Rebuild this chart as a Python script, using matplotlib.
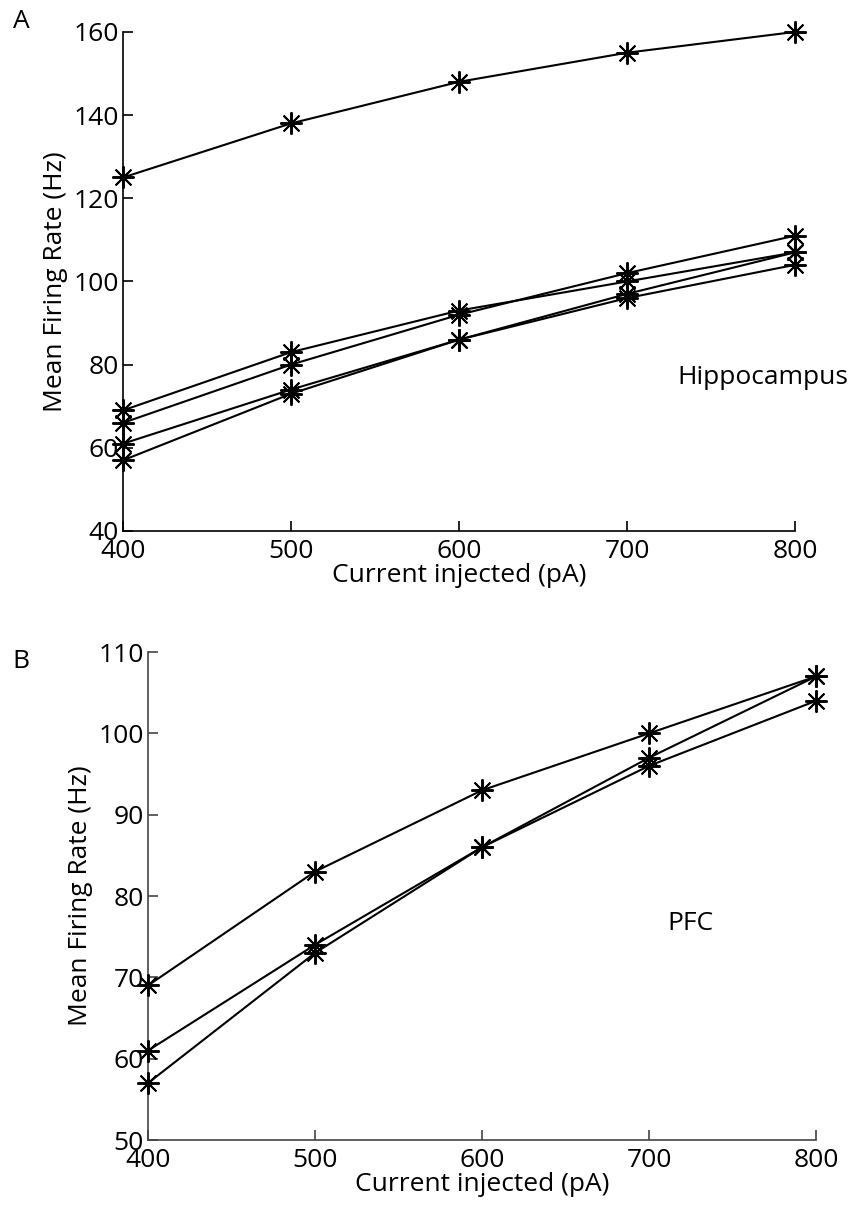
import matplotlib
matplotlib.use("Agg")
import matplotlib.pyplot as plt

plt.rcParams['font.family'] = ['Open Sans', 'DejaVu Sans']

current = [400, 500, 600, 700, 800]

hippo_1 = [125, 138, 148, 155, 160]
hippo_2 = [69, 83, 93, 100, 107]
hippo_3 = [66, 80, 92, 102, 111]
hippo_4 = [61, 74, 86, 97, 107]
hippo_5 = [57, 73, 86, 96, 104]

pfc_1 = [69, 83, 93, 100, 107]
pfc_2 = [61, 74, 86, 97, 107]
pfc_3 = [57, 73, 86, 96, 104]

xticks = [400, 500, 600, 700, 800]
yticks_a = [40, 60, 80, 100, 120, 140, 160]
yticks_b = [50, 60, 70, 80, 90, 100, 110]

FS = 19

fig = plt.figure(figsize=(8.54, 12.19), dpi=100)
axA = fig.add_axes([0.1440, 0.5644, 0.7869, 0.4094])
axB = fig.add_axes([0.1733, 0.0648, 0.7822, 0.4003])

mk = dict(color='black', marker=(8, 2, 0), markersize=16, markeredgewidth=1.4,
          linewidth=1.5, clip_on=False, zorder=3)

for s in [hippo_1, hippo_2, hippo_3, hippo_4, hippo_5]:
    axA.plot(current, s, **mk)
for s in [pfc_1, pfc_2, pfc_3]:
    axB.plot(current, s, **mk)

def style(ax, yticks, spine_color):
    ax.spines['top'].set_visible(False)
    ax.spines['right'].set_visible(False)
    for sp in ['left', 'bottom']:
        ax.spines[sp].set_linewidth(1.2)
        ax.spines[sp].set_color(spine_color)
    ax.set_xlim(400, 800)
    ax.set_ylim(yticks[0], yticks[-1])
    ax.set_xticks(xticks)
    ax.set_yticks(yticks)
    ax.tick_params(direction='in', length=7, width=1.2, color=spine_color,
                   labelcolor='black', labelsize=FS)
    ax.tick_params(axis='y', pad=3)
    ax.tick_params(axis='x', pad=6)
    ax.set_xlabel('Current injected (pA)', fontsize=FS, labelpad=-1)
    ax.set_ylabel('Mean Firing Rate (Hz)', fontsize=FS, labelpad=4)

style(axA, yticks_a, 'black')
style(axB, yticks_b, '#444444')

axA.text(730, 77, 'Hippocampus', fontsize=FS, va='center', ha='left')
axB.text(711, 76.6, 'PFC', fontsize=FS, va='center', ha='left')

fig.text(13 / 854, 1 - 22 / 1219, 'A', fontsize=FS, va='center', ha='left')
fig.text(12 / 854, 1 - 662 / 1219, 'B', fontsize=FS, va='center', ha='left')

fig.savefig('out.png', dpi=100, facecolor='white')
